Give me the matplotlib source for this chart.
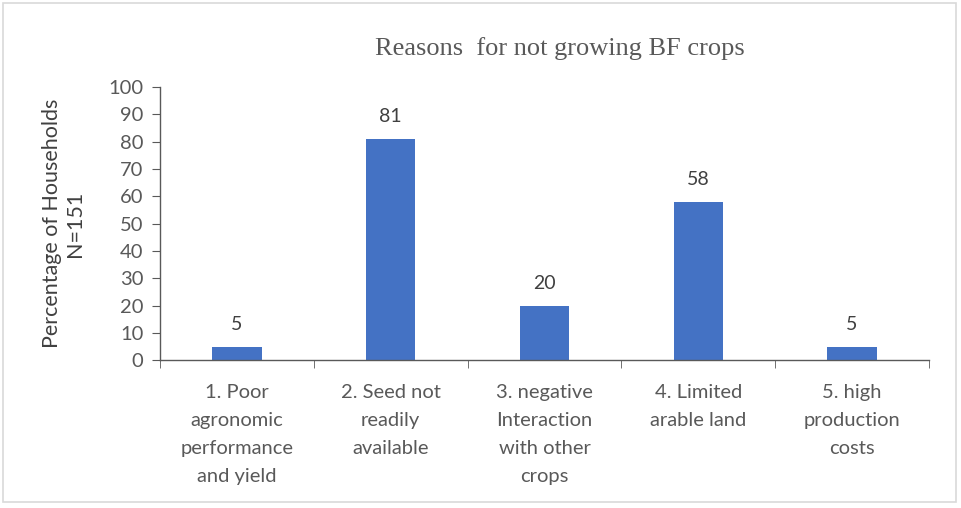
import numpy as np
import matplotlib.pyplot as plt
from matplotlib.patches import Rectangle

# survey responses, % of households (N=151)
reasons = [
    "1. Poor\nagronomic\nperformance\nand yield",
    "2. Seed not\nreadily\navailable",
    "3. negative\nInteraction\nwith other\ncrops",
    "4. Limited\narable land",
    "5. high\nproduction\ncosts",
]
percent = [5, 81, 20, 58, 5]
y_ticks = list(range(0, 101, 10))

bar_color = '#4472C4'
text_grey = '#595959'

fig = plt.figure(figsize=(9.61, 5.08), dpi=100)
ax = fig.add_axes([0.1665, 0.291, 0.8002, 0.538])

x = np.arange(len(reasons))
ax.bar(x, percent, width=0.32, color=bar_color, zorder=2)
for xi, v in zip(x, percent):
    ax.text(xi, v + 5, str(v), ha='center', va='bottom', fontsize=14,
            color='#404040', family='Lato')

ax.set_xlim(-0.5, len(reasons) - 0.5)
ax.set_ylim(0, 100)
ax.set_yticks(y_ticks)
ax.set_xticks(x)
ax.set_xticklabels(reasons, fontsize=14.5, color=text_grey, family='Lato',
                   linespacing=1.8)
ax.tick_params(axis='x', length=0, pad=17)
# category boundary ticks along the baseline
ax.set_xticks(np.arange(-0.5, len(reasons)), minor=True)
ax.tick_params(axis='x', which='minor', length=6, color='#595959', direction='out')
ax.tick_params(axis='y', length=6, color='#595959', labelsize=14.5,
               labelcolor=text_grey, pad=6)
for lbl in ax.get_yticklabels():
    lbl.set_family('Lato')

for s in ['top', 'right']:
    ax.spines[s].set_visible(False)
for s in ['left', 'bottom']:
    ax.spines[s].set_color('#595959')
    ax.spines[s].set_linewidth(1.0)

ax.set_ylabel("Percentage of Households\nN=151", fontsize=15.5, color='#404040',
              family='Lato', labelpad=17, linespacing=1.15)

fig.text(0.583, 0.905, "Reasons  for not growing BF crops", ha='center',
         va='center', fontsize=19, color='#595959', family='Liberation Serif')

# light frame around the chart area
fig.patches.append(Rectangle((0.003, 0.012), 0.992, 0.982, transform=fig.transFigure,
                             fill=False, edgecolor='#d9d9d9', linewidth=1.2))

fig.savefig('out.png', dpi=100)
